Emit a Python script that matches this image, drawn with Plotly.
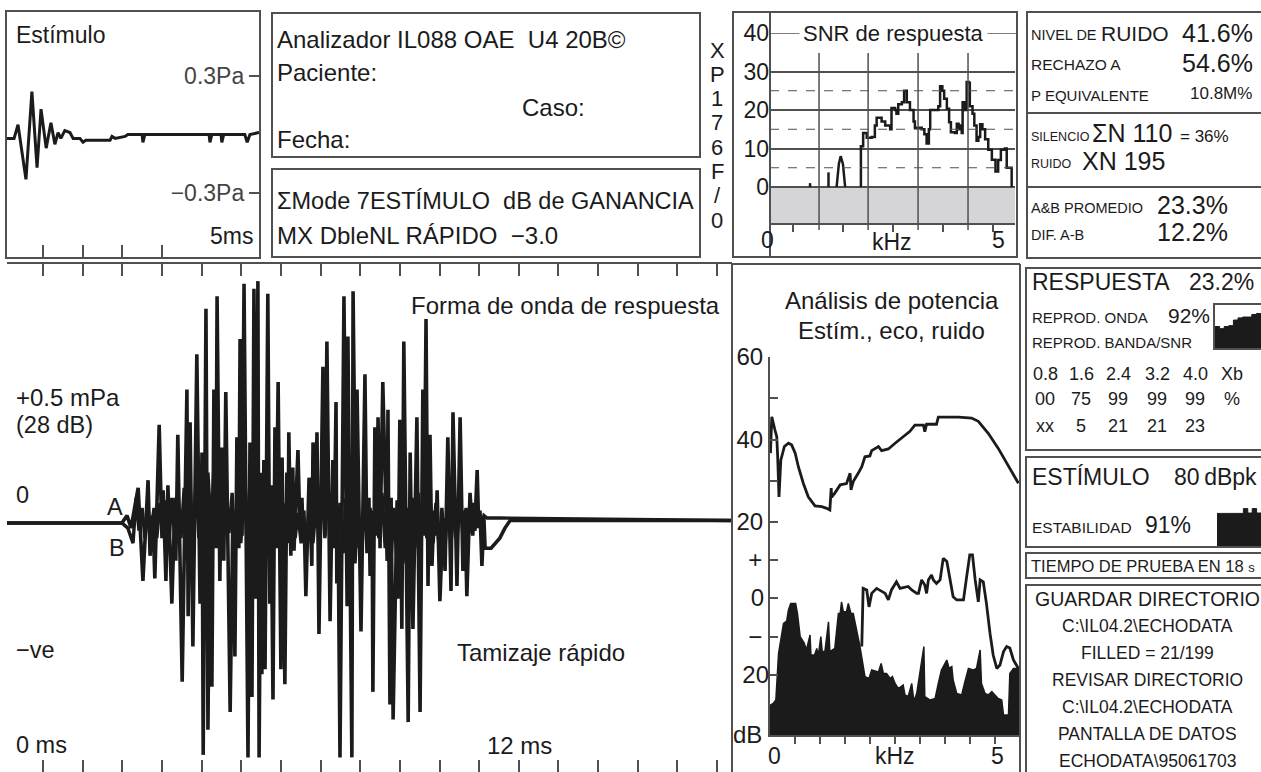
import plotly.graph_objects as go

W, H = 1261, 772
def PX(x): return x / W
def PY(y): return 1 - y / H

FONT = "Liberation Sans, Arial, Helvetica, sans-serif"
INK = "#1b1b1b"
FRAME = "#505050"

# ---------------- data ----------------
# Stimulus (time ms, pressure Pa)
stim_t = [0.09, 0.27, 0.37, 0.57, 0.72, 0.85, 0.95, 1.08, 1.20, 1.30, 1.38, 1.45, 1.55, 1.68, 1.76, 1.93,
          2.01, 2.08, 2.69, 2.74, 2.82, 3.07, 3.14, 3.50, 3.52, 3.57, 5.19, 5.21, 5.26, 5.49, 5.51, 5.56,
          6.09, 6.15, 6.22, 6.45]
stim_pa = [-0.02, -0.02, 0.05, -0.23, 0.22, -0.17, 0.13, -0.07, 0.06, -0.05, 0.01, -0.02, 0.02, 0.01, -0.02, -0.02,
           -0.04, -0.03, -0.03, -0.01, -0.02, -0.01, 0.0, 0.0, -0.04, 0.0, 0.0, -0.04, 0.0, 0.0, -0.04, 0.0,
           0.0, -0.04, 0.0, 0.01]

# Response waveform A (time ms, mPa)
wave_a = [(0.09, 0.0), (2.99, 0.0), (3.12, 0.03), (3.22, -0.02), (3.40, 0.14), (3.52, -0.23), (3.65, 0.17),
          (3.70, -0.13), (3.77, 0.03), (3.82, -0.22), (3.93, 0.39), (4.00, -0.06), (4.03, 0.13), (4.10, -0.23),
          (4.15, 0.15), (4.25, -0.32), (4.33, 0.10), (4.35, -0.15), (4.40, 0.35), (4.51, -0.63), (4.63, 0.53),
          (4.66, -0.37), (4.71, 0.40), (4.78, -0.49), (4.88, 0.67), (4.96, -0.32), (5.01, 0.28), (5.04, -0.92),
          (5.11, 0.85), (5.16, -0.82), (5.21, 0.10), (5.26, -0.65), (5.31, 0.53), (5.36, -0.10), (5.39, 0.90),
          (5.46, -0.23), (5.51, 0.30), (5.56, -0.15), (5.61, 0.52), (5.72, -0.75), (5.79, 0.05), (5.84, -0.53),
          (5.89, 0.34), (5.94, -0.10), (5.97, 0.73), (6.02, -0.05), (6.07, 0.95), (6.17, -0.93), (6.22, 0.32),
          (6.27, -0.69), (6.32, 0.93), (6.37, -0.30), (6.42, 0.96), (6.45, -0.93), (6.50, 0.20), (6.52, -0.60),
          (6.57, 0.25), (6.60, -0.58), (6.67, 0.91), (6.72, -0.32), (6.75, 0.15), (6.80, -0.70), (6.85, 0.38),
          (6.88, -0.10), (6.93, 0.56), (7.00, -0.58), (7.03, 0.26), (7.10, -0.64), (7.15, 0.20), (7.18, -0.05),
          (7.20, 0.36), (7.25, -0.13), (7.30, 0.22), (7.33, -0.11), (7.43, 0.29), (7.48, -0.02), (7.53, 0.10),
          (7.56, -0.04), (7.58, 0.05), (7.63, -0.29), (7.71, 0.18), (7.78, -0.17), (7.81, 0.32), (7.86, -0.02),
          (7.91, 0.36), (7.96, -0.44), (8.06, 0.62), (8.11, -0.05), (8.16, 0.72), (8.24, -0.39), (8.31, 0.25),
          (8.34, -0.10), (8.39, 0.48), (8.41, -0.24), (8.44, 0.05), (8.49, -0.93), (8.59, 0.90), (8.67, -0.33),
          (8.69, 0.74), (8.79, -0.93), (8.82, 0.92), (8.89, -0.10), (8.92, 0.53), (9.02, -0.43), (9.12, 0.59),
          (9.17, -0.12), (9.22, 0.10), (9.25, -0.21), (9.30, 0.05), (9.32, -0.67), (9.37, 0.38), (9.42, -0.05),
          (9.45, 0.42), (9.50, -0.10), (9.57, 0.56), (9.68, -0.15), (9.70, 0.45), (9.75, -0.72), (9.78, 0.10),
          (9.83, -0.78), (9.93, 0.09), (9.95, -0.30), (10.00, 0.41), (10.05, -0.42), (10.10, 0.72), (10.21, -0.79),
          (10.26, 0.28), (10.33, -0.42), (10.43, 0.42), (10.51, -0.75), (10.58, 0.53), (10.61, -0.05), (10.66, 0.81),
          (10.71, -0.25), (10.76, 0.35), (10.81, -0.17), (10.86, 0.05), (10.91, -0.05), (10.94, 0.13), (11.01, -0.31),
          (11.09, 0.02), (11.14, -0.19), (11.21, 0.34), (11.29, -0.27), (11.34, 0.44), (11.44, -0.25), (11.52, 0.42),
          (11.59, -0.19), (11.64, 0.05), (11.69, -0.29), (11.77, 0.12), (11.84, -0.05), (11.87, 0.08), (11.89, -0.02),
          (11.95, 0.21), (11.99, -0.02), (12.02, 0.05), (12.07, -0.17), (12.12, 0.02), (12.15, -0.10), (12.30, -0.10),
          (12.52, -0.06), (12.65, -0.02), (12.78, 0.01), (18.38, 0.01)]

# Response waveform B (time ms, mPa)
wave_b = [(0.09, 0.0), (2.99, 0.0), (3.14, -0.02), (3.27, -0.08), (3.35, 0.10), (3.42, -0.03),
          (3.50, 0.06), (3.57, -0.06), (3.65, 0.05), (3.72, -0.04), (3.80, 0.06), (3.87, -0.06), (3.95, 0.08),
          (4.03, -0.05), (4.10, 0.09), (4.18, -0.07), (4.25, 0.10), (4.33, -0.08), (4.40, 0.12), (4.48, -0.06),
          (4.56, 0.14), (4.63, -0.08), (4.71, 0.15), (4.78, -0.10), (4.86, 0.16), (4.93, -0.06), (5.01, 0.18),
          (5.09, -0.04), (5.16, 0.20), (5.24, -0.02), (5.31, 0.22), (5.39, -0.06), (5.46, 0.18), (5.54, -0.08),
          (5.61, 0.16), (5.69, -0.04), (5.77, 0.12), (5.84, -0.10), (5.92, 0.10), (5.99, -0.08), (6.07, 0.14),
          (6.14, -0.05), (6.22, 0.16), (6.30, -0.02), (6.37, 0.18), (6.45, 0.0), (6.52, 0.15), (6.60, -0.02),
          (6.67, 0.14), (6.75, -0.04), (6.83, 0.12), (6.90, -0.06), (6.98, 0.10), (7.05, -0.06), (7.13, 0.08),
          (7.20, -0.08), (7.28, 0.06), (7.36, -0.06), (7.43, 0.04), (7.51, -0.08), (7.58, 0.02), (7.66, -0.10),
          (7.73, 0.04), (7.81, -0.08), (7.89, 0.08), (7.96, -0.06), (8.04, 0.12), (8.11, -0.06), (8.19, 0.14),
          (8.26, -0.06), (8.34, 0.10), (8.41, -0.08), (8.49, 0.08), (8.57, -0.12), (8.64, 0.10), (8.72, -0.14),
          (8.79, 0.08), (8.87, -0.16), (8.94, 0.06), (9.02, -0.12), (9.10, 0.08), (9.17, -0.10), (9.25, 0.06),
          (9.32, -0.08), (9.40, 0.10), (9.47, -0.06), (9.55, 0.12), (9.63, -0.10), (9.70, 0.08), (9.78, -0.14),
          (9.85, 0.06), (9.93, -0.18), (10.00, 0.04), (10.08, -0.16), (10.16, 0.06), (10.23, -0.12), (10.31, 0.10),
          (10.38, -0.10), (10.46, 0.12), (10.53, -0.08), (10.61, 0.14), (10.68, -0.06), (10.76, 0.10), (10.84, -0.08),
          (10.91, 0.08), (10.99, -0.10), (11.06, 0.06), (11.14, -0.10), (11.21, 0.08), (11.29, -0.08), (11.37, 0.06),
          (11.44, -0.06), (11.52, 0.08), (11.59, -0.04), (11.67, 0.06), (11.74, -0.04), (11.82, 0.05), (11.89, -0.03),
          (11.97, 0.04), (12.04, -0.02), (12.12, 0.03), (12.20, 0.02), (12.52, 0.02), (18.38, 0.01)]

# SNR of response (kHz, dB)
snr_bumps = [(0.89, 0.0), (0.89, 1.0), (None, None), (1.30, 0.0), (1.30, 3.8), (None, None),
             (1.48, 0.0), (1.53, 6.0), (1.57, 8.0), (1.62, 6.0), (1.67, 0.0)]
snr_main = [(2.02, 0.0), (2.02, 10.6), (2.07, 14.0), (2.15, 12.8), (2.26, 13.0), (2.33, 16.0), (2.37, 18.0),
            (2.48, 17.0), (2.56, 16.0), (2.67, 15.0), (2.70, 20.5), (2.78, 20.0), (2.81, 19.0), (2.85, 21.5),
            (2.93, 22.0), (2.98, 25.0), (3.04, 22.0), (3.11, 20.0), (3.19, 17.0), (3.22, 15.4), (3.37, 15.0),
            (3.43, 13.7), (3.48, 11.3), (3.53, 15.0), (3.56, 20.0), (3.74, 21.0), (3.78, 26.2), (3.83, 25.0),
            (3.87, 22.9), (3.93, 20.3), (3.98, 16.8), (4.02, 14.2), (4.11, 14.0), (4.15, 16.4), (4.19, 15.0),
            (4.22, 16.0), (4.26, 14.0), (4.28, 22.0), (4.33, 20.0), (4.37, 27.3), (4.42, 27.0), (4.44, 21.0),
            (4.50, 19.0), (4.54, 16.0), (4.59, 12.0), (4.63, 13.0), (4.67, 16.3), (4.72, 15.0), (4.78, 12.4),
            (4.85, 9.7), (4.93, 7.1), (5.01, 4.0), (5.07, 7.0), (5.13, 9.7), (5.22, 10.0), (5.26, 5.0),
            (5.33, 5.0), (5.37, 0.0)]

# Power analysis: stimulus spectrum (kHz, dB, upper scale)
stim_spec = [(0.01, 36.7), (0.04, 45.5), (0.11, 42.3), (0.15, 40.7), (0.17, 36.0), (0.20, 26.1), (0.24, 35.0),
             (0.26, 35.8), (0.32, 38.3), (0.41, 39.1), (0.48, 38.7), (0.56, 36.7), (0.63, 33.4), (0.74, 29.4),
             (0.85, 26.1), (1.00, 23.9), (1.15, 23.7), (1.26, 23.3), (1.33, 22.9), (1.36, 28.2), (1.37, 26.0),
             (1.44, 27.0), (1.56, 29.0), (1.70, 29.3), (1.78, 31.8), (1.80, 27.8), (1.85, 29.8), (1.96, 31.8),
             (2.04, 33.4), (2.11, 35.8), (2.22, 36.0), (2.26, 37.3), (2.41, 38.3), (2.48, 37.3), (2.63, 37.7),
             (2.78, 39.1), (2.93, 40.4), (3.11, 42.0), (3.22, 43.5), (3.41, 43.5), (3.44, 41.9), (3.48, 43.7),
             (3.70, 43.7), (3.74, 45.4), (4.19, 45.4), (4.48, 45.2), (4.63, 44.4), (4.85, 41.5), (5.07, 37.9),
             (5.30, 33.4), (5.52, 29.4)]
# Echo response (kHz, dB, lower scale)
echo_spec = [(2.04, -12.6), (2.07, 2.5), (2.15, 2.1), (2.20, -2.3), (2.26, 1.2), (2.37, 2.5), (2.56, 1.2),
             (2.63, -0.5), (2.70, 2.1), (2.81, 4.2), (2.89, 2.5), (3.07, 3.0), (3.15, 2.1), (3.26, 1.2),
             (3.30, 1.2), (3.37, 4.7), (3.44, 3.4), (3.48, 1.2), (3.52, 4.7), (3.59, 6.0), (3.63, 4.7),
             (3.70, 3.8), (3.78, 4.7), (3.85, 10.3), (3.93, 9.5), (4.00, 4.7), (4.07, 0.3), (4.15, -0.5),
             (4.30, -0.5), (4.37, 5.5), (4.44, 11.2), (4.50, 11.2), (4.56, 4.7), (4.63, -1.0), (4.67, 4.7),
             (4.74, 4.2), (4.81, -1.4), (4.89, -9.2), (4.96, -14.8), (5.04, -18.3), (5.11, -17.4), (5.19, -13.9),
             (5.26, -12.6), (5.33, -13.0), (5.41, -16.1), (5.52, -18.3)]
# Noise (kHz, dB, lower scale)
noise_spec = [(0.01, -27.8), (0.07, -27.4), (0.13, -26.5), (0.19, -14.4), (0.30, -6.6), (0.37, -6.0), (0.41, -3.1),
              (0.46, -1.4), (0.57, -1.4), (0.61, -4.0), (0.67, -10.0), (0.76, -11.7), (0.81, -13.5), (0.89, -9.6),
              (0.91, -14.8), (0.99, -14.8), (1.04, -13.1), (1.07, -15.2), (1.13, -10.0), (1.16, -13.9), (1.22, -13.9),
              (1.30, -6.2), (1.33, -13.9), (1.44, -13.1), (1.52, -4.0), (1.56, -4.0), (1.59, -1.0), (1.63, -3.6),
              (1.70, -3.6), (1.74, -1.4), (1.80, -4.0), (1.85, -4.0), (1.93, -8.3), (2.00, -12.6), (2.11, -20.4),
              (2.20, -20.9), (2.26, -18.7), (2.41, -19.2), (2.47, -17.0), (2.52, -19.6), (2.59, -19.6), (2.67, -20.9),
              (2.72, -20.4), (2.78, -22.2), (2.85, -23.5), (2.96, -22.6), (3.00, -25.2), (3.07, -25.6), (3.15, -22.2),
              (3.19, -26.1), (3.22, -26.1), (3.26, -24.8), (3.42, -12.6), (3.44, -25.6), (3.56, -26.5), (3.67, -26.1),
              (3.74, -22.2), (3.81, -18.7), (3.93, -16.1), (3.98, -18.3), (4.04, -17.8), (4.07, -21.3), (4.15, -24.8),
              (4.26, -25.2), (4.33, -21.8), (4.41, -18.3), (4.52, -18.7), (4.59, -18.3), (4.67, -13.5), (4.70, -22.2),
              (4.78, -24.8), (4.85, -25.2), (4.93, -24.3), (5.00, -25.2), (5.07, -26.1), (5.15, -26.5), (5.19, -30.4),
              (5.30, -30.4), (5.33, -19.6), (5.41, -18.3), (5.52, -18.3)]

# small inset bar strips (relative height per column)
reprod_wave = [0.50, 0.45, 0.50, 0.52, 0.65, 0.70, 0.72, 0.72, 0.78, 0.80]
stability = [0.84, 0.84, 0.84, 0.84, 0.84, 0.84, 0.96, 0.85, 0.96, 0.85]

band_khz = ["0.8", "1.6", "2.4", "3.2", "4.0", "Xb"]
band_repro = ["00", "75", "99", "99", "99", "%"]
band_snr = ["xx", "5", "21", "21", "23", ""]

device_code = ["X", "P", "1", "7", "6", "F", "/", "0"]

# axis scale constants (layout only)
POW_LO_MIN = -35.58   # bottom of lower (echo/noise) scale

def xs(p): return [a for a, b in p]
def ys(p): return [b for a, b in p]

fig = go.Figure()

fig.add_trace(go.Scatter(x=stim_t, y=stim_pa, mode="lines", line=dict(color=INK, width=3), xaxis="x", yaxis="y"))
fig.add_trace(go.Scatter(x=xs(wave_b), y=ys(wave_b), mode="lines", line=dict(color=INK, width=3.4), xaxis="x2", yaxis="y2"))
fig.add_trace(go.Scatter(x=xs(wave_a), y=ys(wave_a), mode="lines", line=dict(color=INK, width=3.6), xaxis="x2", yaxis="y2"))
fig.add_trace(go.Scatter(x=xs(snr_bumps), y=ys(snr_bumps), mode="lines", line=dict(color=INK, width=2.5),
                         xaxis="x3", yaxis="y3", connectgaps=False))
fig.add_trace(go.Scatter(x=xs(snr_main), y=ys(snr_main), mode="lines", line=dict(color=INK, width=2.5, shape="hv"),
                         xaxis="x3", yaxis="y3"))
fig.add_trace(go.Scatter(x=xs(stim_spec), y=ys(stim_spec), mode="lines", line=dict(color=INK, width=2.8),
                         xaxis="x4", yaxis="y4"))
nx = xs(noise_spec); ny = ys(noise_spec)
fig.add_trace(go.Scatter(x=[nx[0]] + nx + [nx[-1]], y=[POW_LO_MIN] + ny + [POW_LO_MIN], mode="lines",
                         fill="toself", fillcolor=INK, line=dict(color=INK, width=1.5), xaxis="x4", yaxis="y5"))
fig.add_trace(go.Scatter(x=xs(echo_spec), y=ys(echo_spec), mode="lines", line=dict(color=INK, width=2.8),
                         xaxis="x4", yaxis="y5"))
fig.add_trace(go.Scatter(x=list(range(len(reprod_wave) + 1)), y=reprod_wave + [reprod_wave[-1]], mode="lines",
                         line=dict(color=INK, width=1, shape="hv"), fill="tozeroy", fillcolor=INK,
                         xaxis="x5", yaxis="y6"))
fig.add_trace(go.Scatter(x=list(range(len(stability) + 1)), y=stability + [stability[-1]], mode="lines",
                         line=dict(color=INK, width=1, shape="hv"), fill="tozeroy", fillcolor=INK,
                         xaxis="x6", yaxis="y7"))

common = dict(showgrid=False, zeroline=False, fixedrange=True, automargin=False)
NB = "\u00a0"

layout = dict(
    width=W, height=H, margin=dict(l=0, r=0, t=0, b=0, pad=0, autoexpand=False),
    paper_bgcolor="white", plot_bgcolor="white", showlegend=False,
    font=dict(family=FONT, color=INK, size=20),
    # stimulus
    xaxis=dict(domain=[PX(7), PX(259)], range=[0.092, 6.448], anchor="y", showline=True, mirror=True,
               linecolor=FRAME, linewidth=2, ticks="inside", ticklen=12, tickwidth=1.5, tickcolor=FRAME,
               tickvals=[1, 2, 3, 4, 5, 6], showticklabels=False, **common),
    yaxis=dict(domain=[PY(257), PY(12)], range=[-0.628, 0.628], anchor="x", side="right", showline=True,
               mirror=True, linecolor=FRAME, linewidth=2, ticks="inside", ticklen=10, tickwidth=1.5,
               tickcolor=FRAME, tickvals=[0.3, -0.3], ticktext=["0.3Pa" + NB, "\u22120.3Pa" + NB],
               ticklabelposition="inside", tickfont=dict(size=23), **common),
    # response waveform
    xaxis2=dict(domain=[PX(7), PX(732)], range=[0.092, 18.377], anchor="y2", showline=True, mirror="ticks",
                linecolor=FRAME, linewidth=2, ticks="inside", ticklen=12, tickwidth=1.5, tickcolor=FRAME,
                tickvals=list(range(1, 19)), showticklabels=False, **common),
    yaxis2=dict(domain=[0, PY(264)], range=[-0.988, 1.028], anchor="x2", visible=False, **common),
    # SNR
    xaxis3=dict(domain=[PX(770), PX(1015)], range=[0, 5.444], anchor="y3", showline=True, linecolor=FRAME,
                linewidth=2, ticks="outside", ticklen=7, tickwidth=1.5, tickcolor=FRAME,
                tickvals=[0.51, 1.62, 2.73, 3.84, 4.96], showticklabels=False, **common),
    yaxis3=dict(domain=[PY(223), PY(33)], range=[-9.35, 40], anchor="x3", showline=False, ticks="",
                tickvals=[0, 10, 20, 30, 40], tickfont=dict(size=23), showgrid=True, gridcolor=FRAME,
                gridwidth=1.5, zeroline=False, fixedrange=True, automargin=False),
    # power analysis
    xaxis4=dict(domain=[PX(770), PX(1020)], range=[0, 5.556], anchor="y4", showline=True, linecolor=FRAME,
                linewidth=2, ticks="outside", ticklen=7, tickwidth=1.5, tickcolor=FRAME,
                tickvals=[k * 5 / 9 for k in range(1, 10)], showticklabels=False, **common),
    yaxis4=dict(domain=[PY(735), PY(357)], range=[-31.64, 60], anchor="x4", showline=True, linecolor=FRAME,
                linewidth=2, ticks="inside", ticklen=8, tickwidth=1.5, tickcolor=FRAME,
                tickvals=[60, 50, 40, 30, 20], ticktext=["60", "", "40", "", "20"], tickfont=dict(size=24),
                **common),
    yaxis5=dict(overlaying="y4", anchor="x4", side="left", range=[POW_LO_MIN, 62.6], showline=False,
                ticks="inside", ticklen=8, tickwidth=1.5, tickcolor=FRAME, tickvals=[10, 0, -10, -20],
                ticktext=["+" + NB, "0" + "\u2009", "\u2212" + NB, "20"], tickfont=dict(size=24), **common),
    # insets
    xaxis5=dict(domain=[PX(1215), PX(1261)], range=[0, len(reprod_wave)], anchor="y6", showline=True,
                mirror=True, linecolor=FRAME, linewidth=1.5, ticks="", showticklabels=False, **common),
    yaxis6=dict(domain=[PY(348), PY(305)], range=[0, 1], anchor="x5", showline=True, mirror=True,
                linecolor=FRAME, linewidth=1.5, ticks="", showticklabels=False, **common),
    xaxis6=dict(domain=[PX(1217), PX(1261)], range=[0, len(stability)], anchor="y7", showline=False,
                ticks="", showticklabels=False, **common),
    yaxis7=dict(domain=[PY(547), PY(507)], range=[0, 1], anchor="x6", showline=False, ticks="",
                showticklabels=False, **common),
)

shapes = []
def rect(x0, y0, x1, y1, lw=2):
    shapes.append(dict(type="rect", xref="paper", yref="paper", x0=PX(x0), y0=PY(y0), x1=PX(x1), y1=PY(y1),
                       line=dict(color=FRAME, width=lw), fillcolor="rgba(0,0,0,0)", layer="above"))
def seg(x0, y0, x1, y1, lw=2):
    shapes.append(dict(type="line", xref="paper", yref="paper", x0=PX(x0), y0=PY(y0), x1=PX(x1), y1=PY(y1),
                       line=dict(color=FRAME, width=lw), layer="above"))

# header boxes
rect(272, 13, 700, 157)
rect(272, 169, 700, 257)
# SNR frame
rect(733, 12, 1017, 257)
seg(770, 12, 770, 257)
shapes.append(dict(type="rect", xref="x3 domain", yref="y3", x0=0, x1=1, y0=-9.35, y1=0,
                   fillcolor="#d5d5d7", line=dict(width=0), layer="below"))
shapes.append(dict(type="line", xref="paper", yref="y3", x0=PX(770), x1=PX(1017), y0=40, y1=40,
                   line=dict(color=FRAME, width=1.5), layer="below"))
for v in [5, 15, 25]:
    shapes.append(dict(type="line", xref="x3 domain", yref="y3", x0=0, x1=1, y0=v, y1=v,
                       line=dict(color=FRAME, width=1.2, dash="dash"), layer="above"))
for v in [1.09, 2.18, 3.29, 4.40]:
    shapes.append(dict(type="line", xref="x3", yref="paper", x0=v, x1=v, y0=PY(230), y1=PY(53),
                       line=dict(color=FRAME, width=1.5), layer="above"))
# lower panels
seg(732, 264, 732, 775)
seg(732, 264, 1020, 264)
seg(1020, 264, 1020, 775)
# right info boxes
rect(1027, 12, 1264, 258)
seg(1027, 113, 1264, 113)
seg(1027, 187, 1264, 187)
rect(1026, 268, 1264, 450)
rect(1026, 457, 1264, 547)
rect(1026, 553, 1264, 578)
rect(1026, 585, 1264, 780)
layout["shapes"] = shapes

ann = []
def T(x, y, s, size=20, xa="left", **kw):
    ann.append(dict(x=PX(x), y=PY(y), xref="paper", yref="paper", text=s, showarrow=False,
                    xanchor=xa, yanchor="middle", font=dict(size=size, family=FONT, color=INK), **kw))

# stimulus panel
T(14, 35, "Estímulo", 23)
T(255, 236, "5ms", 23, "right")
# header text
T(275, 40, "Analizador IL088 OAE" + NB + NB + "U4 20B©", 24)
T(275, 72, "Paciente:", 24)
T(520, 107, "Caso:", 24)
T(275, 140, "Fecha:", 24)
T(275, 201, "ΣMode 7ESTÍMULO" + NB + NB + "dB de GANANCIA", 23.5)
T(275, 236, "MX DbleNL RÁPIDO" + NB + NB + "\u22123.0", 24)
for i, ch in enumerate(device_code):
    T(717, 50 + 24.3 * i, ch, 22, "center")
# SNR panel
T(893, 33, "SNR de respuesta", 22, "center", bgcolor="white", borderpad=3)
T(768, 240, "0", 23, "center")
T(892, 242, "kHz", 23, "center")
T(998, 240, "5", 23, "center")
# waveform panel
T(14, 397, "+0.5 mPa", 24)
T(14, 425, "(28 dB)", 23.5)
T(14, 495, "0", 23.5)
T(105, 507, "A", 23.5)
T(107, 548, "B", 23.5)
T(14, 650, "\u2212ve", 23.5)
T(14, 745, "0 ms", 23.5)
T(485, 745, "12 ms", 24)
T(722, 305, "Forma de onda de respuesta", 24, "right")
T(455, 652, "Tamizaje rápido", 24)
# power panel
T(892, 300, "Análisis de potencia", 24, "center")
T(891, 330, "Estím., eco, ruido", 24, "center")
T(747, 734, "dB", 24, "center")
T(774, 756, "0", 23, "center")
T(895, 756, "kHz", 23, "center")
T(997, 756, "5", 23, "center")
# top right box
T(1029, 35, "NIVEL DE", 14.5)
T(1099, 33, "RUIDO", 21)
T(1255, 33, "41.6%", 25, "right")
T(1029, 65, "RECHAZO A", 15.5)
T(1255, 63, "54.6%", 25, "right")
T(1029, 95, "P EQUIVALENTE", 15)
T(1254, 94, "10.8M%", 17, "right")
T(1029, 137, "SILENCIO", 12.5)
T(1090, 133, "ΣN 110", 25)
T(1178, 137, "= 36%", 17)
T(1029, 164, "RUIDO", 12.5)
T(1080, 161, "XN 195", 25)
T(1029, 208, "A&B PROMEDIO", 14.5)
T(1155, 205, "23.3%", 25)
T(1029, 235, "DIF. A-B", 14.5)
T(1155, 232, "12.2%", 25)
# response box
T(1030, 282, "RESPUESTA", 23)
T(1256, 282, "23.2%", 23, "right")
T(1030, 317, "REPROD. ONDA", 15)
T(1166, 315, "92%", 21)
T(1030, 342, "REPROD. BANDA/SNR", 15)
col_x = [1045, 1081, 1118, 1157, 1195, 1232]
for cx, a, b, c in zip(col_x, band_khz, band_repro, band_snr):
    T(cx, 374, a, 18, "center")
    T(cx, 399, b, 18, "center")
    if c:
        T(cx, 426, c, 18, "center")
# stimulus box
T(1030, 477, "ESTÍMULO", 23)
T(1259, 477, "80\u2009dBpk", 23, "right")
T(1030, 527, "ESTABILIDAD", 15.5)
T(1143, 525, "91%", 23)
T(1029, 566, "TIEMPO DE PRUEBA EN 18 <span style='font-size:13px'>s</span>", 16.5)
# directory box
dir_lines = ["GUARDAR DIRECTORIO", "C:\\IL04.2\\ECHODATA", "FILLED = 21/199", "REVISAR DIRECTORIO",
             "C:\\IL04.2\\ECHODATA", "PANTALLA DE DATOS", "ECHODATA\\95061703"]
for i, s in enumerate(dir_lines):
    T(1147, 599 + 27 * i, s, 19.5 if i == 0 else 17.5, "center")
layout["annotations"] = ann

fig.update_layout(**layout)
fig.write_html("out.html")
